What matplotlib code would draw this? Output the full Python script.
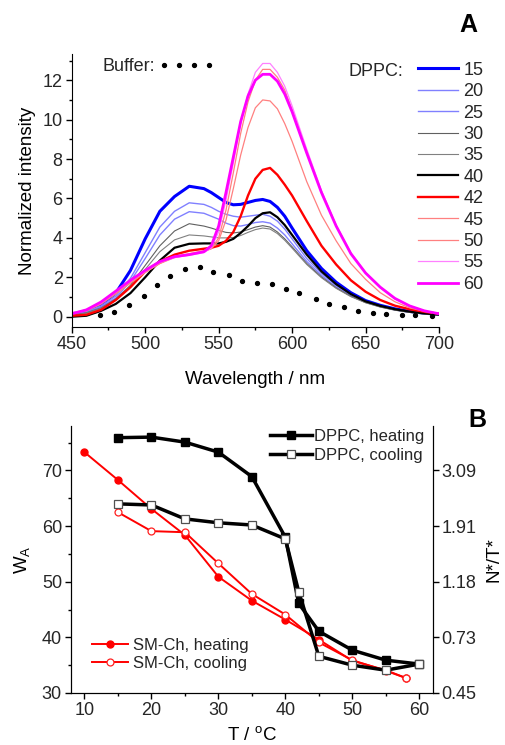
import matplotlib
matplotlib.use("Agg")
import matplotlib.pyplot as plt
from matplotlib.ticker import MultipleLocator

plt.rcParams["font.family"] = ["Liberation Sans", "DejaVu Sans"]
plt.rcParams["mathtext.fontset"] = "custom"
plt.rcParams["mathtext.rm"] = "Liberation Sans"
plt.rcParams["mathtext.it"] = "Liberation Sans:italic"
plt.rcParams["text.color"] = "#262626"
plt.rcParams["xtick.labelcolor"] = "#262626"
plt.rcParams["ytick.labelcolor"] = "#262626"

# ---- panel A: emission spectra ----
WAVELENGTH = [450, 460, 470, 480, 490, 500, 510, 520, 530, 540, 545, 550, 555, 560, 565, 570,
              575, 580, 585, 590, 595, 600, 610, 620, 630, 640, 650, 660, 670, 680, 690, 700]

SPEC_15 = [0.10, 0.30, 0.60, 1.20, 2.35, 3.95, 5.35, 6.10, 6.62, 6.50, 6.30, 6.05, 5.80, 5.68, 5.70, 5.80,
           5.90, 5.95, 5.85, 5.55, 5.10, 4.50, 3.35, 2.45, 1.75, 1.22, 0.82, 0.58, 0.40, 0.27, 0.18, 0.12]
SPEC_20 = [0.10, 0.25, 0.55, 1.05, 1.95, 3.25, 4.55, 5.35, 5.78, 5.70, 5.55, 5.35, 5.20, 5.10, 5.05, 5.10,
           5.15, 5.20, 5.10, 4.85, 4.45, 3.95, 2.95, 2.20, 1.60, 1.12, 0.77, 0.53, 0.36, 0.24, 0.16, 0.10]
SPEC_25 = [0.10, 0.25, 0.50, 0.95, 1.80, 2.95, 4.15, 4.95, 5.33, 5.25, 5.10, 4.95, 4.75, 4.62, 4.60, 4.68,
           4.78, 4.82, 4.75, 4.50, 4.15, 3.70, 2.80, 2.10, 1.52, 1.08, 0.74, 0.51, 0.35, 0.23, 0.15, 0.10]
SPEC_30 = [0.08, 0.20, 0.45, 0.90, 1.60, 2.60, 3.60, 4.35, 4.72, 4.60, 4.50, 4.38, 4.28, 4.25, 4.30, 4.42,
           4.55, 4.62, 4.55, 4.30, 3.95, 3.55, 2.70, 2.02, 1.47, 1.04, 0.72, 0.50, 0.34, 0.22, 0.15, 0.09]
SPEC_35 = [0.08, 0.18, 0.42, 0.85, 1.50, 2.40, 3.30, 3.90, 4.15, 4.10, 4.05, 4.00, 4.00, 4.02, 4.12, 4.28,
           4.42, 4.50, 4.45, 4.22, 3.88, 3.48, 2.65, 1.98, 1.44, 1.02, 0.71, 0.49, 0.33, 0.22, 0.14, 0.09]
SPEC_40 = [0.00, 0.05, 0.30, 0.65, 1.20, 2.00, 2.85, 3.50, 3.70, 3.72, 3.72, 3.72, 3.80, 3.95, 4.25, 4.60,
           5.00, 5.25, 5.30, 5.05, 4.65, 4.15, 3.15, 2.30, 1.65, 1.15, 0.78, 0.55, 0.38, 0.26, 0.17, 0.11]
SPEC_42 = [0.05, 0.10, 0.35, 0.85, 1.50, 2.30, 2.80, 3.15, 3.35, 3.45, 3.50, 3.60, 3.85, 4.30, 5.10, 6.15,
           7.00, 7.45, 7.55, 7.20, 6.70, 6.15, 4.85, 3.60, 2.65, 1.85, 1.27, 0.85, 0.56, 0.38, 0.25, 0.15]
SPEC_45 = [0.20, 0.30, 0.65, 1.15, 1.70, 2.25, 2.70, 3.05, 3.20, 3.35, 3.45, 3.85, 4.90, 6.50, 8.20, 9.60,
           10.6, 11.0, 10.95, 10.55, 9.80, 8.90, 6.85, 5.15, 3.85, 2.70, 1.90, 1.22, 0.76, 0.45, 0.27, 0.15]
SPEC_50 = [0.20, 0.30, 0.65, 1.20, 1.75, 2.25, 2.70, 3.00, 3.15, 3.30, 3.45, 4.00, 5.40, 7.30, 9.30, 10.9,
           12.0, 12.55, 12.55, 12.15, 11.5, 10.5, 8.35, 6.35, 4.60, 3.22, 2.22, 1.48, 0.92, 0.54, 0.30, 0.15]
SPEC_55 = [0.20, 0.35, 0.70, 1.25, 1.80, 2.30, 2.75, 3.00, 3.12, 3.25, 3.50, 4.30, 5.90, 7.80, 9.80, 11.3,
           12.4, 12.85, 12.85, 12.4, 11.7, 10.7, 8.50, 6.40, 4.65, 3.25, 2.25, 1.50, 0.93, 0.55, 0.30, 0.15]
SPEC_60 = [0.15, 0.35, 0.75, 1.30, 1.85, 2.35, 2.80, 3.05, 3.15, 3.30, 3.60, 4.60, 6.30, 8.10, 9.90, 11.2,
           12.0, 12.3, 12.3, 11.95, 11.3, 10.4, 8.30, 6.30, 4.60, 3.20, 2.22, 1.50, 0.93, 0.55, 0.30, 0.15]

DPPC_TEMPS = ["15", "20", "25", "30", "35", "40", "42", "45", "50", "55", "60"]

BUFFER_WL = [469, 479, 489, 499, 508, 517, 527, 537, 546, 557, 566, 576,
             586, 596, 605, 616, 625, 635, 645, 655, 664, 675, 684, 695]
BUFFER_VAL = [0.09, 0.22, 0.59, 1.05, 1.61, 2.07, 2.42, 2.50, 2.29, 2.10, 1.83, 1.73,
              1.64, 1.42, 1.19, 0.90, 0.66, 0.48, 0.30, 0.20, 0.15, 0.10, 0.09, 0.04]

# ---- panel B: W_A vs temperature ----
T_DPPC = [15, 20, 25, 30, 35, 40, 42, 45, 50, 55, 60]
DPPC_HEAT = [75.9, 76.0, 75.1, 73.3, 68.9, 58.0, 46.1, 41.1, 37.7, 35.9, 35.2]
DPPC_COOL = [64.0, 63.8, 61.3, 60.6, 60.2, 57.7, 48.2, 36.6, 35.0, 34.1, 35.2]

T_SM_HEAT = [10, 15, 20, 25, 30, 35, 40, 45, 50, 55, 58]
SM_HEAT = [73.3, 68.3, 63.1, 58.4, 50.9, 46.6, 43.2, 39.6, 35.8, 34.1, 32.7]
T_SM_COOL = [15, 20, 25, 30, 35, 40, 45, 50, 55, 58]
SM_COOL = [62.5, 59.1, 58.9, 53.3, 47.8, 44.1, 39.1, 35.9, 34.0, 32.7]

RIGHT_TICKS = [30, 40, 50, 60, 70]
RIGHT_LABELS = ["0.45", "0.73", "1.18", "1.91", "3.09"]

spectra = [SPEC_15, SPEC_20, SPEC_25, SPEC_30, SPEC_35, SPEC_40,
           SPEC_42, SPEC_45, SPEC_50, SPEC_55, SPEC_60]
colors = ["#0000ff", "#8080ff", "#8080ff", "#606060", "#808080", "#000000",
          "#ff0000", "#ff8080", "#ff8080", "#ff80ff", "#ff00ff"]
widths = [2.2, 1.0, 1.0, 0.8, 0.8, 1.6, 1.7, 0.9, 0.9, 0.9, 2.0]

fig = plt.figure(figsize=(5.06, 7.45), dpi=100)

# ---------------- panel A ----------------
ax = fig.add_axes([0.1417, 0.5611, 0.7259, 0.3664])
lines = []
for vals, c, lw, lab in zip(spectra, colors, widths, DPPC_TEMPS):
    ln, = ax.plot(WAVELENGTH, vals, color=c, lw=lw, label=lab)
    lines.append(ln)
buf, = ax.plot(BUFFER_WL, BUFFER_VAL, ls="none", marker="o", ms=2.8, color="black")

ax.set_xlim(450, 700)
ax.set_ylim(-0.52, 13.33)
ax.xaxis.set_major_locator(MultipleLocator(50))
ax.xaxis.set_minor_locator(MultipleLocator(25))
ax.yaxis.set_major_locator(MultipleLocator(2))
ax.yaxis.set_minor_locator(MultipleLocator(1))
ax.spines["top"].set_visible(False)
ax.spines["right"].set_visible(False)
ax.tick_params(which="major", direction="out", length=4.5, width=1, labelsize=13, pad=2)
ax.tick_params(which="minor", direction="out", length=2.5, width=1)
ax.set_xlabel("Wavelength / nm", fontsize=13.5, labelpad=13)
ax.set_ylabel("Normalized intensity", fontsize=13.5, labelpad=5)

leg1 = ax.legend(lines, DPPC_TEMPS, loc="upper left", bbox_to_anchor=(0.943, 0.972),
                 frameon=False, fontsize=13, handlelength=2.2, handletextpad=0.3,
                 labelspacing=0.245, borderpad=0, borderaxespad=0)
ax.add_artist(leg1)
ax.legend([buf], ["Buffer:"], loc="upper left", bbox_to_anchor=(0.085, 0.985),
          frameon=False, fontsize=13, markerfirst=False, numpoints=4,
          handlelength=3.1, handletextpad=0.15, borderpad=0, borderaxespad=0)
ax.text(0.902, 0.937, "DPPC:", transform=ax.transAxes, ha="right", va="center", fontsize=13)
fig.text(0.925, 0.966, "A", fontsize=18, fontweight="bold", ha="center", va="center",
         color="black")

# ---------------- panel B ----------------
bx = fig.add_axes([0.1403, 0.0698, 0.7148, 0.3584])
h3, = bx.plot(T_SM_HEAT, SM_HEAT, color="#ff0000", lw=1.4, marker="o", ms=5,
              label="SM-Ch, heating")
h4, = bx.plot(T_SM_COOL, SM_COOL, color="#ff0000", lw=1.4, marker="o", ms=5,
              mfc="white", mec="#ff2020", mew=0.9, label="SM-Ch, cooling")
h1, = bx.plot(T_DPPC, DPPC_HEAT, color="black", lw=2.5, marker="s", ms=5.5,
              label="DPPC, heating")
h2, = bx.plot(T_DPPC, DPPC_COOL, color="black", lw=2.5, marker="s", ms=5.5,
              mfc="white", mec="#505050", mew=0.9, label="DPPC, cooling")

bx.set_xlim(8, 62)
bx.set_ylim(30, 78)
bx.xaxis.set_major_locator(MultipleLocator(10))
bx.xaxis.set_minor_locator(MultipleLocator(5))
bx.yaxis.set_major_locator(MultipleLocator(10))
bx.yaxis.set_minor_locator(MultipleLocator(5))
bx.spines["top"].set_visible(False)
bx.tick_params(which="major", direction="out", length=4.5, width=1, labelsize=13, pad=2)
bx.tick_params(which="minor", direction="out", length=2.5, width=1)
bx.set_xlabel(r"T / $^{\mathrm{o}}$C", fontsize=13.5, labelpad=5)
bx.set_ylabel(r"W$_{\mathrm{A}}$", fontsize=13.5, labelpad=7)

tw = bx.twinx()
tw.set_ylim(bx.get_ylim())
tw.set_yticks(RIGHT_TICKS)
tw.set_yticklabels(RIGHT_LABELS)
tw.spines["top"].set_visible(False)
tw.tick_params(direction="out", length=4.5, width=1, labelsize=13, pad=2)
tw.set_ylabel("N*/T*", fontsize=13.5, labelpad=6)

legb = bx.legend([h1, h2], ["DPPC, heating", "DPPC, cooling"], loc="upper left",
                 bbox_to_anchor=(0.55, 0.99), frameon=False, fontsize=12,
                 handlelength=2.5, handletextpad=0.15, labelspacing=0.25,
                 borderpad=0, borderaxespad=0, numpoints=1)
bx.add_artist(legb)
bx.legend([h3, h4], ["SM-Ch, heating", "SM-Ch, cooling"], loc="upper left",
          bbox_to_anchor=(0.058, 0.207), frameon=False, fontsize=12,
          handlelength=2.15, handletextpad=0.3, labelspacing=0.2,
          borderpad=0, borderaxespad=0, numpoints=1)
fig.text(0.943, 0.436, "B", fontsize=18, fontweight="bold", ha="center", va="center",
         color="black")

fig.savefig("out.png", dpi=100)
